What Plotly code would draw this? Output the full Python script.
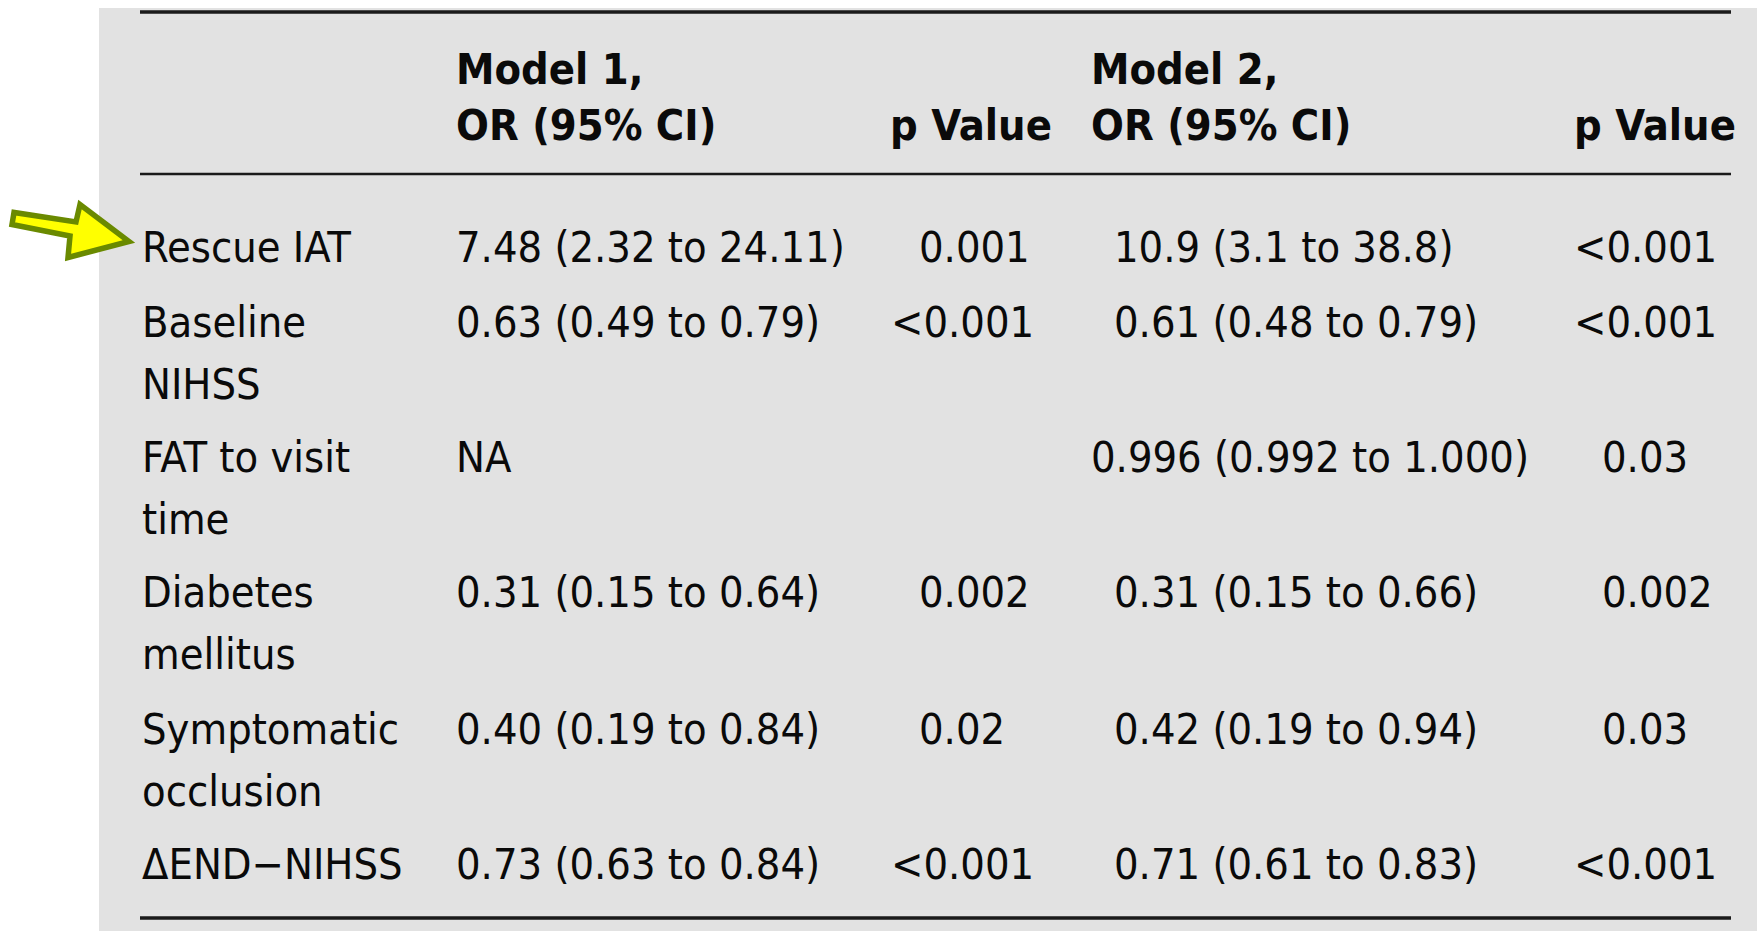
import plotly.graph_objects as go

# ---------------- data ----------------
header_line1 = ["", "Model 1,", "", "Model 2,", ""]
header_line2 = ["", "OR (95% CI)", "p Value", "OR (95% CI)", "p Value"]

variables = [
    ["Rescue IAT"],
    ["Baseline", "NIHSS"],
    ["FAT to visit", "time"],
    ["Diabetes", "mellitus"],
    ["Symptomatic", "occlusion"],
    ["\u0394END\u2212NIHSS"],
]
model1_or = [
    "7.48 (2.32 to 24.11)",
    "0.63 (0.49 to 0.79)",
    "NA",
    "0.31 (0.15 to 0.64)",
    "0.40 (0.19 to 0.84)",
    "0.73 (0.63 to 0.84)",
]
model1_p = ["0.001", "<0.001", "", "0.002", "0.02", "<0.001"]
model2_or = [
    "10.9 (3.1 to 38.8)",
    "0.61 (0.48 to 0.79)",
    "0.996 (0.992 to 1.000)",
    "0.31 (0.15 to 0.66)",
    "0.42 (0.19 to 0.94)",
    "0.71 (0.61 to 0.83)",
]
model2_p = ["<0.001", "<0.001", "0.03", "0.002", "0.03", "<0.001"]

# ---------------- layout / style ----------------
W, H = 1757, 931
FONT = "DejaVu Sans Condensed, DejaVu Sans, sans-serif"
FS = 43
TXT = "#0a0a0a"
BG = "#e2e2e2"

col_label_x = 140
col_m1_x = 454
col_p1_x = 917
col_p1_head_x = 888
col_m2_x = 1112
col_m2_head_x = 1089
col_m2_wide_x = 1089
col_p2_x = 1600
col_p2_head_x = 1572
lt_offset = 28  # "<" hangs left of the digits

head_y1, head_y2 = 69, 125
row_y = [247, 322, 457, 592, 729, 864]
line_gap = 62

fig = go.Figure()
fig.add_trace(go.Scatter(x=[], y=[], mode="markers", showlegend=False))

shapes = []
# gray panel
shapes.append(dict(type="rect", x0=99, x1=W, y0=8, y1=H, fillcolor=BG,
                   line=dict(width=0), layer="below"))
# rules
for y, w in [(12, 3.5), (174, 2.5), (918, 3.5)]:
    shapes.append(dict(type="line", x0=140, x1=1731, y0=y, y1=y,
                       line=dict(color="#1a1a1a", width=w)))
# arrow
arrow_path = ("M 14,212.5 L 12,224.5 L 70,236 L 68,257.5 L 129,241.5 "
              "L 80,204.5 L 76,222 Z")
shapes.append(dict(type="path", path=arrow_path, fillcolor="#ffff00",
                   line=dict(color="#6a8a00", width=5.5)))

ann = []


def txt(x, y, s, bold=False):
    if not s:
        return
    ann.append(dict(x=x, y=y, xref="x", yref="y", text=("<b>%s</b>" % s) if bold else s,
                    showarrow=False, xanchor="left", yanchor="middle",
                    font=dict(family=FONT, size=FS, color=TXT)))


# headers
head_x = [col_label_x, col_m1_x, col_p1_head_x, col_m2_head_x, col_p2_head_x]
for x, a, b in zip(head_x, header_line1, header_line2):
    txt(x, head_y1, a, True)
    txt(x, head_y2, b, True)


def pval(xcol, y, s):
    if s.startswith("<"):
        txt(xcol - lt_offset, y, s)
    else:
        txt(xcol, y, s)


for i, y in enumerate(row_y):
    for k, line in enumerate(variables[i]):
        txt(col_label_x, y + k * line_gap, line)
    txt(col_m1_x, y, model1_or[i])
    pval(col_p1_x, y, model1_p[i])
    mx = col_m2_wide_x if model2_or[i].startswith("0.996") else col_m2_x
    txt(mx, y, model2_or[i])
    pval(col_p2_x, y, model2_p[i])

fig.update_layout(
    width=W, height=H, margin=dict(l=0, r=0, t=0, b=0),
    paper_bgcolor="white", plot_bgcolor="white",
    xaxis=dict(range=[0, W], visible=False, fixedrange=True),
    yaxis=dict(range=[H, 0], visible=False, fixedrange=True),
    shapes=shapes, annotations=ann, showlegend=False,
)
fig.write_html("out.html")
